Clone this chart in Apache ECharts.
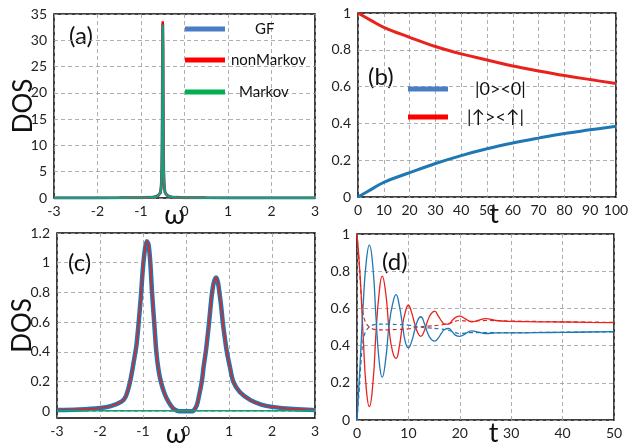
<!DOCTYPE html>
<html><head><meta charset="utf-8">
<script src="https://cdn.jsdelivr.net/npm/echarts@6/dist/echarts.min.js"></script>
<style>html,body{margin:0;padding:0;background:#fff}#c{width:638px;height:447px}</style>
</head><body><div id="c"></div>
<script>
// ---------- Panel (a): DOS vs omega (sharp peak) ----------
const omegaA = [-3,-2,-1.5,-1,-0.8,-0.7,-0.65,-0.6,-0.57,-0.555,-0.54,-0.53,-0.52,-0.515,-0.51,-0.505,-0.5,-0.495,-0.49,-0.485,-0.48,-0.47,-0.46,-0.445,-0.43,-0.4,-0.35,-0.3,-0.2,0,0.5,1,2,3];
const dosA_GF        = [0.01,0.02,0.03,0.06,0.12,0.2,0.3,0.5,0.8,1.0,1.8,3,6,10,18,29,33.2,29,18,10,6,3,1.8,1.0,0.8,0.5,0.3,0.2,0.12,0.06,0.03,0.02,0.01,0.01];
const dosA_nonMarkov = [0.01,0.02,0.03,0.06,0.12,0.2,0.3,0.5,0.8,1.0,1.8,3,6,10,18,29.5,33.6,29.5,18,10,6,3,1.8,1.0,0.8,0.5,0.3,0.2,0.12,0.06,0.03,0.02,0.01,0.01];
const dosA_Markov    = [0.01,0.02,0.03,0.06,0.12,0.2,0.3,0.5,0.8,1.0,1.8,3,6,10,18,28.8,33.0,28.8,18,10,6,3,1.8,1.0,0.8,0.5,0.3,0.2,0.12,0.06,0.03,0.02,0.01,0.01];

// ---------- Panel (b): populations vs t ----------
const tB = [0,5,10,20,30,40,50,60,70,80,90,100];
const popB_zero = [0,0.04,0.08,0.132,0.182,0.225,0.262,0.293,0.32,0.345,0.365,0.385];
const popB_up   = [1,0.96,0.922,0.868,0.818,0.778,0.745,0.712,0.685,0.66,0.638,0.617];

// ---------- Panel (c): DOS vs omega (two peaks) ----------
const omegaC = [-3,-2.5,-2,-1.75,-1.5,-1.4,-1.3,-1.2,-1.15,-1.1,-1.05,-1.0,-0.95,-0.91,-0.87,-0.83,-0.79,-0.74,-0.69,-0.64,-0.585,-0.5,-0.4,-0.3,-0.2,-0.1,0,0.1,0.17,0.25,0.3,0.367,0.41,0.46,0.5,0.537,0.57,0.607,0.65,0.7,0.74,0.777,0.82,0.855,0.9,0.95,1.02,1.1,1.25,1.5,1.75,2,2.5,3];
const dosC_GF = [0.008,0.012,0.022,0.035,0.065,0.1,0.2,0.36,0.45,0.6,0.77,0.97,1.1,1.145,1.12,1.0,0.8,0.6,0.4,0.28,0.2,0.12,0.06,0.02,0.003,0,0,0,0.003,0.04,0.1,0.2,0.3,0.4,0.5,0.6,0.7,0.8,0.87,0.9,0.87,0.8,0.7,0.6,0.5,0.4,0.3,0.2,0.13,0.075,0.045,0.03,0.015,0.008];
const dosC_nonMarkov = dosC_GF.slice();
const omegaC_Markov = [-3,3];
const dosC_Markov = [0.004,0.004];
const ticksC_y = [0,0.2,0.4,0.6,0.8,1,1.2];

// ---------- Panel (d): oscillating populations ----------
const tD_solid = [0,0.6,1.2,1.8,2.4,3.1,3.7,4.3,4.9,5.6,6.2,6.9,7.6,8.2,8.8,9.4,10,10.6,11.2,11.8,12.4,13.1,13.7,14.4,15.1,15.8,16.5,17.1,17.8,18.5,19.2,20,21,22.3,23.6,25,27,30,35,40,45,50];
const popD_blue = [0,0.3,0.62,0.85,0.94,0.82,0.55,0.32,0.23,0.33,0.5,0.62,0.674,0.62,0.52,0.42,0.388,0.42,0.48,0.535,0.555,0.52,0.47,0.435,0.424,0.44,0.47,0.488,0.492,0.475,0.455,0.45,0.462,0.479,0.472,0.465,0.468,0.468,0.47,0.471,0.473,0.475];
const popD_red  = [1,0.78,0.45,0.17,0.072,0.2,0.47,0.68,0.773,0.68,0.5,0.37,0.331,0.39,0.5,0.58,0.617,0.58,0.52,0.47,0.45,0.48,0.53,0.57,0.585,0.56,0.53,0.515,0.515,0.535,0.552,0.558,0.545,0.528,0.535,0.545,0.535,0.53,0.528,0.527,0.525,0.523];
const tD_dash = [0,0.4,0.8,1.2,1.6,2.2,3,4,6,8,10,12,14,16,18,20,22,25,30,40,50];
const popD_redDash  = [1,0.85,0.68,0.57,0.53,0.505,0.49,0.485,0.485,0.487,0.49,0.5,0.505,0.51,0.52,0.535,0.53,0.535,0.532,0.528,0.525];
const popD_blueDash = [0,0.15,0.32,0.43,0.47,0.495,0.51,0.515,0.515,0.513,0.51,0.5,0.495,0.49,0.48,0.465,0.47,0.47,0.47,0.472,0.474];

const zip = (xs, ys) => xs.map((x, i) => [x, ys[i]]);
const FONT = 'Lato, "DejaVu Sans", sans-serif';
const BLUE = '#1f77b4', RED = '#e8231e', GREEN = '#13a07a';

const gridBase = {show: true, borderColor: '#000', borderWidth: 1.5, backgroundColor: 'transparent', containLabel: false, outerBoundsMode: 'none'};
const split = {show: true, lineStyle: {color: '#9a9a9a', type: [4, 3], width: 0.8}};
const lbl = {color: '#222', fontSize: 14, fontFamily: FONT};

function xAx(gi, min, max, interval, name, shift, gap) {
  return {gridIndex: gi, type: 'value', min, max, interval,
    axisLine: {show: false}, axisTick: {show: false}, splitLine: split,
    axisLabel: Object.assign({margin: 6}, lbl),
    name, nameLocation: 'middle', nameGap: gap, nameMoveOverlap: false,
    nameTextStyle: {fontSize: 27, color: '#111', fontFamily: FONT,
      padding: shift < 0 ? [0, -2 * shift, 0, 0] : [0, 0, 0, 2 * shift]}};
}
function yAx(gi, min, max, interval, name, gap, custom) {
  const a = {gridIndex: gi, type: 'value', min, max,
    axisLine: {show: false}, axisTick: {show: false}, splitLine: split,
    axisLabel: Object.assign({margin: 7}, lbl)};
  if (custom) { a.axisLabel.customValues = custom; a.axisTick.customValues = custom; }
  else a.interval = interval;
  if (name) { a.name = name; a.nameLocation = 'middle'; a.nameGap = gap; a.nameRotate = 90; a.nameMoveOverlap = false;
    a.nameTextStyle = {fontSize: 26, color: '#111', fontFamily: FONT}; }
  return a;
}
function line(name, xi, data, color, width, extra) {
  return Object.assign({name, type: 'line', xAxisIndex: xi, yAxisIndex: xi, data,
    showSymbol: false, symbol: 'none', color, lineStyle: {color, width}, animation: false}, extra || {});
}
function leg(name, color, left, top, padLeft, size) {
  return {data: [{name, itemStyle: {color}}], left, top, icon: 'rect', itemWidth: 40, itemHeight: 5,
    selectedMode: false, padding: 0,
    textStyle: {fontSize: size, color: '#111', fontFamily: FONT, padding: [0, 0, 0, padLeft], lineHeight: 20}};
}

const chart = echarts.init(document.getElementById('c'), null, {renderer: 'canvas'});
chart.setOption({
  backgroundColor: '#fff',
  animation: false,
  grid: [
    Object.assign({left: 54, top: 14, width: 261, height: 184}, gridBase),
    Object.assign({left: 358, top: 13, width: 258, height: 184}, gridBase),
    Object.assign({left: 57, top: 233, width: 258, height: 185}, gridBase),
    Object.assign({left: 357, top: 234, width: 257, height: 186}, gridBase)
  ],
  xAxis: [
    xAx(0, -3, 3, 1, 'ω', -10, 4),
    xAx(1, 0, 100, 10, 't', 7, 4),
    xAx(2, -3, 3, 1, 'ω', -10, 3),
    xAx(3, 0, 50, 10, 't', 8, 0)
  ],
  yAxis: [
    yAx(0, 0, 35, 5, 'DOS', 17),
    yAx(1, 0, 1, 0.2, '', 0),
    yAx(2, -0.045, 1.2, null, 'DOS', 21, ticksC_y),
    yAx(3, 0, 1, 0.2, '', 0)
  ],
  legend: [
    leg('GF', '#4a7cc8', 185, 19, 25, 15),
    leg('nonMarkov', '#ff0000', 185, 50, 1, 15),
    leg('Markov', '#00b050', 185, 82, 9, 15),
    leg('|0><0|', '#4a7cc8', 408, 79, 22, 18),
    leg('|↑><↑|', '#ff0000', 408, 107, 14, 18)
  ],
  graphic: [
    {type: 'text', left: 69, top: 24, style: {text: '(a)', font: '24px ' + FONT, fill: '#111'}},
    {type: 'text', left: 368, top: 65, style: {text: '(b)', font: '24px ' + FONT, fill: '#111'}},
    {type: 'text', left: 68, top: 251, style: {text: '(c)', font: '24px ' + FONT, fill: '#111'}},
    {type: 'text', left: 382, top: 250, style: {text: '(d)', font: '24px ' + FONT, fill: '#111'}}
  ],
  series: [
    line('GF', 0, zip(omegaA, dosA_GF), '#3f7cc4', 3),
    line('nonMarkov', 0, zip(omegaA, dosA_nonMarkov), '#ff0000', 2.5),
    line('Markov', 0, zip(omegaA, dosA_Markov), GREEN, 2.2),
    line('|0><0|', 1, zip(tB, popB_zero), BLUE, 3, {smooth: 0.4}),
    line('|↑><↑|', 1, zip(tB, popB_up), RED, 3, {smooth: 0.4}),
    line('GF', 2, zip(omegaC, dosC_GF), BLUE, 4.5, {smooth: 0.3}),
    line('nonMarkov', 2, zip(omegaC, dosC_nonMarkov), RED, 1.5, {smooth: 0.3}),
    line('Markov', 2, zip(omegaC_Markov, dosC_Markov), GREEN, 1.5),
    line('d-up', 3, zip(tD_solid, popD_red), RED, 1.3, {smooth: 0.5}),
    line('d-zero', 3, zip(tD_solid, popD_blue), BLUE, 1.3, {smooth: 0.5}),
    line('d-upDash', 3, zip(tD_dash, popD_redDash), RED, 1.2, {smooth: 0.4, lineStyle: {color: RED, width: 1.2, type: [4, 3]}}),
    line('d-zeroDash', 3, zip(tD_dash, popD_blueDash), BLUE, 1.2, {smooth: 0.4, lineStyle: {color: BLUE, width: 1.2, type: [4, 3]}})
  ]
});
</script></body></html>
